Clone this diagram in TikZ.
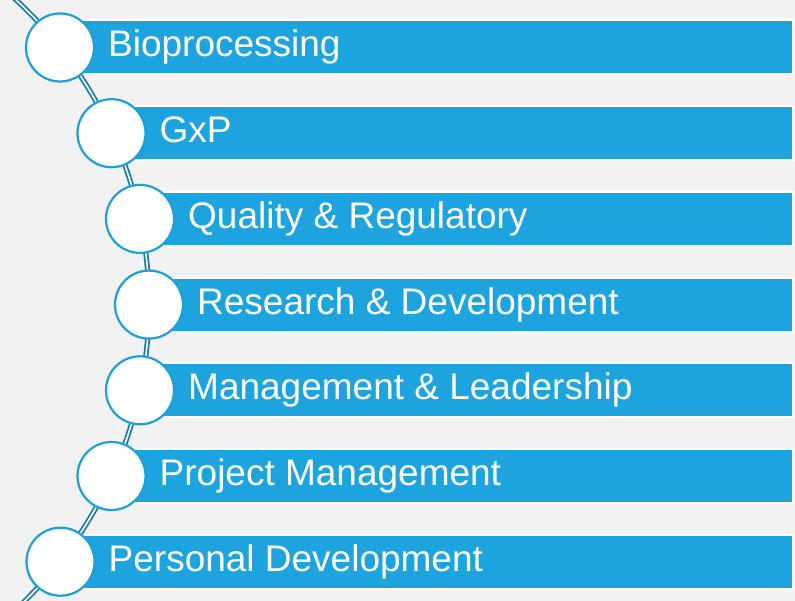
\documentclass[tikz,border=0pt]{standalone}
\usepackage{fontspec}
\setmainfont{Liberation Sans}
\definecolor{barblue}{HTML}{1DA3DD}
\definecolor{ringblue}{HTML}{1E9FD8}
\definecolor{arcblue}{HTML}{1A7CA6}
\definecolor{bggray}{HTML}{F2F2F2}
\tikzset{
  barbox/.style={rectangle, fill=barblue, draw=white, line width=2pt, inner sep=0pt, minimum height=54pt, anchor=west},
  dot/.style={circle, fill=white, draw=ringblue, line width=2.2pt, inner sep=0pt, minimum size=68pt},
  lbl/.style={text=white, inner sep=0pt, anchor=base west, font=\fontsize{37}{44}\selectfont},
  spine/.style={draw=arcblue, line width=1.8pt, double=white, double distance=1.6pt}
}
\begin{document}
\begin{tikzpicture}[x=1pt,y=1pt]
\fill[bggray] (0,0) rectangle (795,601);
\useasboundingbox (0,0) rectangle (795,601);
\begin{scope}
\clip (0,0) rectangle (795,601);
\draw[spine] (-266.6,296.4) ++(-49:415.6) arc[start angle=-49, end angle=49, radius=415.6];
\end{scope}
\foreach \i/\cx/\cy/\t in {1/60/553.5/Bioprocessing, 2/111.5/467.8/GxP, 3/140/382.1/Quality \& Regulatory, 4/149/296.4/Research \& Development, 5/140/210.7/Management \& Leadership, 6/111.5/125/Project Management, 7/60.5/39.3/Personal Development}{
  \pgfmathsetmacro{\w}{791.7-\cx}
  \node[barbox, minimum width=\w pt] (bar\i) at (\cx,\cy) {};
  \node[dot] (c\i) at (\cx,\cy) {};
  \node[lbl] (t\i) at (\cx+48,\cy-9.5) {\t};
}
\end{tikzpicture}
\end{document}
